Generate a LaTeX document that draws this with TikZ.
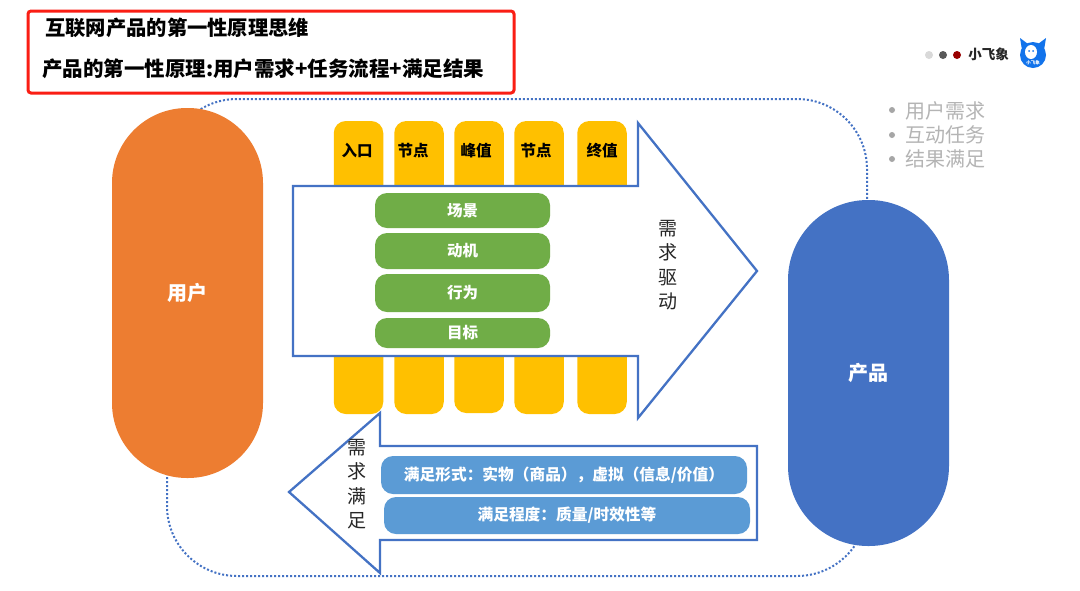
\documentclass[tikz,border=0pt]{standalone}
\usepackage{fontspec}
\setmainfont{Noto Sans CJK SC}
\usepackage{tikz}
\usetikzlibrary{positioning}
\definecolor{ublue}{HTML}{4472C4}
\definecolor{uorange}{HTML}{ED7D31}
\definecolor{ugreen}{HTML}{70AD47}
\definecolor{uyellow}{HTML}{FFC000}
\definecolor{ulight}{HTML}{5B9BD5}
\definecolor{ugray}{HTML}{B4B4B4}
\definecolor{ulogo}{HTML}{1273EB}
\definecolor{ured}{HTML}{FA1E14}
\tikzset{
	bar/.style={fill=uyellow,rounded corners=12pt,minimum width=49.5pt,minimum height=293pt,inner sep=0pt,outer sep=0pt},
	barlabel/.style={font=\bfseries\fontsize{15.5}{18}\selectfont,text=black,inner sep=0pt},
	greenbox/.style={fill=ugreen,rounded corners=12pt,minimum width=175pt,inner sep=0pt,outer sep=0pt,text=white,font=\bfseries\fontsize{15.5}{18}\selectfont},
	bluebox/.style={fill=ulight,rounded corners=12pt,minimum width=366pt,inner sep=0pt,outer sep=0pt,text=white,font=\bfseries\fontsize{15.7}{18}\selectfont},
	pill/.style={inner sep=0pt,outer sep=0pt,text=white,font=\bfseries\fontsize{20}{22}\selectfont},
	bigarrow/.style={draw=ublue,line width=2.3pt,fill=white,line join=miter},
	vertical/.style={align=center,inner sep=0pt,font=\fontsize{19}{24.5}\selectfont,text=black!85},
	bullet/.style={anchor=west,inner sep=0pt,text=ugray,font=\fontsize{20}{24}\selectfont},
	dot/.style={circle,minimum size=8pt,inner sep=0pt},
	bulletdot/.style={circle,minimum size=6pt,inner sep=0pt,fill=black!35}
}
\begin{document}
\begin{tikzpicture}[x=1pt,y=-1pt]
\useasboundingbox (0,0) rectangle (1080,590);
\fill[white] (0,0) rectangle (1080,590);
% loop behind the two pills
\draw[ublue,line width=2pt,dash pattern=on 2pt off 2pt,rounded corners=70pt] (167,99) rectangle (867,576);
\node[pill,fill=uorange,rounded corners=75pt,minimum width=151pt,minimum height=370pt] (user) at (187.5,293) {用户};
\node[pill,fill=ublue,rounded corners=80pt,minimum width=161pt,minimum height=346pt] (product) at (868.5,373) {产品};
% yellow bars
\node[bar] (bar_1) at (358.5,267.5) {};
\node[bar] (bar_2) at (419,267.5) {};
\node[bar,minimum height=292pt] (bar_3) at (479,267) {};
\node[bar] (bar_4) at (539,267.5) {};
\node[bar] (bar_5) at (602,267.5) {};
\node[barlabel] (label_1) at (357,150.5) {入口};
\node[barlabel] (label_2) at (413,150.5) {节点};
\node[barlabel] (label_3) at (476,150.5) {峰值};
\node[barlabel] (label_4) at (536,150.5) {节点};
\node[barlabel] (label_5) at (602,150.5) {终值};
% arrows
\draw[bigarrow] (293,186) -- (638,186) -- (638,123) -- (757,271) -- (638,418) -- (638,356) -- (293,356) -- cycle;
\draw[bigarrow] (289,492) -- (380,413) -- (380,446) -- (757,446) -- (757,540) -- (380,540) -- (380,573) -- cycle;
% boxes in the arrows
\node[greenbox,minimum height=35pt] (scene) at (462.5,210.5) {场景};
\node[greenbox,minimum height=36pt] (motive) at (462.5,251) {动机};
\node[greenbox,minimum height=38pt] (action) at (462.5,293) {行为};
\node[greenbox,minimum height=30pt] (goal) at (462.5,333) {目标};
\node[bluebox,minimum height=38pt] (form) at (564,475) {满足形式：实物（商品），虚拟（信息/价值）};
\node[bluebox,minimum height=37pt] (degree) at (567,515.5) {满足程度：质量/时效性等};
\node[vertical] (drive) at (668,265) {需\\求\\驱\\动};
\node[vertical] (meet) at (357,484) {需\\求\\满\\足};
% title
\node[draw=ured,line width=3pt,rounded corners=3pt,minimum width=486pt,minimum height=82pt,inner sep=0pt] (titlebox) at (271,52) {};
\node[anchor=west,inner sep=0pt,font=\bfseries\fontsize{20.3}{22}\selectfont] (title) at (45,28) {互联网产品的第一性原理思维};
\node[anchor=west,inner sep=0pt,font=\bfseries\fontsize{20.5}{22}\selectfont] (subtitle) at (42,69) {产品的第一性原理:用户需求+任务流程+满足结果};
% top right
\node[bulletdot] (dot_a) at (892,110) {};
\node[bulletdot] (dot_b) at (892,135) {};
\node[bulletdot] (dot_c) at (892,159) {};
\node[bullet] (need) at (905,111) {用户需求};
\node[bullet] (task) at (905,135) {互动任务};
\node[bullet] (result) at (905,159) {结果满足};
\node[dot,fill=black!15] (dot_1) at (929,55) {};
\node[dot,fill=black!65] (dot_2) at (943,55) {};
\node[dot,fill=red!60!black] (dot_3) at (957,55) {};
\node[inner sep=0pt,font=\bfseries\fontsize{13.5}{15}\selectfont,text=black!85] (brand) at (988.5,54.5) {小飞象};
% logo
\node[circle,fill=ulogo,minimum size=26pt,inner sep=0pt] (logo) at (1033,55) {};
\fill[ulogo] (1020,38) -- (1028,44) -- (1022,50) -- cycle;
\fill[ulogo] (1046,38) -- (1038,44) -- (1044,50) -- cycle;
\fill[white] (1031,52) ellipse (6pt and 7pt);
\fill[ulogo] (1029,51) circle (1pt) (1033,51) circle (1pt);
\node[inner sep=0pt,text=white,font=\bfseries\fontsize{4.5}{5}\selectfont] (logotext) at (1033,63) {小飞象};
\end{tikzpicture}
\end{document}
